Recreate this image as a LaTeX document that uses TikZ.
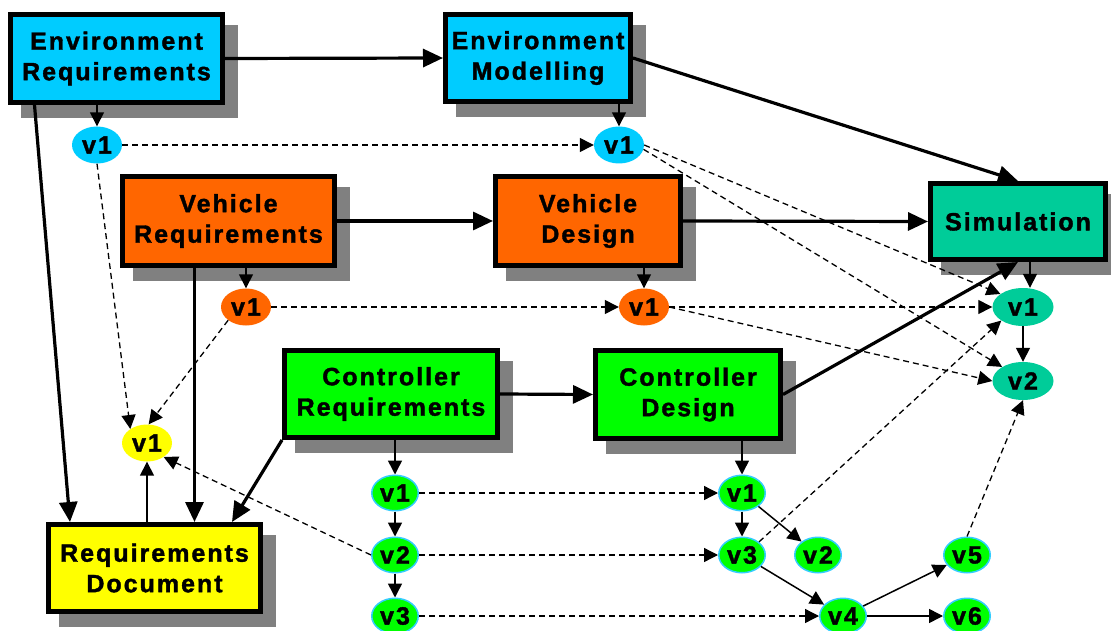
\documentclass[tikz,border=0pt]{standalone}
\usepackage{fontspec}
\setmainfont{Liberation Sans}
\newfontfamily\lblfont[LetterSpace=8, BoldFeatures={FakeBold=1.5}]{Liberation Sans}
\usetikzlibrary{arrows.meta,shapes.geometric,calc}

\definecolor{envc}{HTML}{00CCFF}
\definecolor{vehc}{HTML}{FF6600}
\definecolor{simc}{HTML}{00CC99}
\definecolor{ctlc}{HTML}{00FF00}
\definecolor{docc}{HTML}{FFFF00}
\definecolor{shadowgray}{HTML}{808080}
\definecolor{verline}{HTML}{33CCFF}

\begin{document}
\begin{tikzpicture}[x=1pt,y=-1pt,
  lbl/.style={font=\lblfont\bfseries\fontsize{25}{30.5}\selectfont, align=center, text=black},
  box/.style={lbl, draw=black, line width=5pt, inner sep=0pt,
    preaction={fill=shadowgray, draw=shadowgray, transform canvas={shift={(13pt,-13pt)}}}},
  ver/.style={lbl, ellipse, inner sep=0pt, minimum width=50pt, minimum height=37pt},
  simver/.style={ver, fill=simc, minimum width=61pt, minimum height=38pt},
  ctlver/.style={ver, fill=ctlc, draw=verline, line width=1.5pt, minimum width=46.5pt, minimum height=35.5pt},
  flow/.style={line width=3.2pt, -{Triangle[length=20pt,width=18pt]}},
  step link/.style={line width=1.5pt, -{Triangle[length=14pt,width=14pt]}},
  trace/.style={line width=1.3pt, dash pattern=on 6pt off 4pt, -{Triangle[length=14pt,width=14pt]}}
]
\useasboundingbox (0,0) rectangle (1111,631);

% activity boxes
\node[box, fill=envc, minimum width=212pt, minimum height=88pt] (er) at (116.5,58.5) {Environment\\Requirements};
\node[box, fill=envc, minimum width=185pt, minimum height=87pt] (em) at (538,58) {Environment\\Modelling};
\node[box, fill=vehc, minimum width=212pt, minimum height=89pt] (vr) at (228.5,221) {Vehicle\\Requirements};
\node[box, fill=vehc, minimum width=185pt, minimum height=89pt] (vd) at (588,221) {Vehicle\\Design};
\node[box, fill=simc, minimum width=175pt, minimum height=76pt] (sim) at (1018,221.5) {Simulation};
\node[box, fill=ctlc, minimum width=213pt, minimum height=87pt] (cr) at (391,394) {Controller\\Requirements};
\node[box, fill=ctlc, minimum width=185pt, minimum height=88pt] (cd) at (688,394.5) {Controller\\Design};
\node[box, fill=docc, minimum width=212pt, minimum height=87pt] (rd) at (154.5,568) {Requirements\\Document};

% versions
\node[ver, fill=envc] (ev1) at (97,145) {v1};
\node[ver, fill=envc] (mv1) at (619,145) {v1};
\node[ver, fill=vehc] (rv1) at (246,307) {v1};
\node[ver, fill=vehc] (dv1) at (644,307) {v1};
\node[ver, fill=docc] (yv1) at (147,443) {v1};
\node[simver] (sv1) at (1023,307) {v1};
\node[simver] (sv2) at (1023,381) {v2};
\node[ctlver] (cr1) at (395,493) {v1};
\node[ctlver] (cr2) at (395,555) {v2};
\node[ctlver] (cr3) at (395,616) {v3};
\node[ctlver] (cd1) at (742,493) {v1};
\node[ctlver] (cd3) at (742,555) {v3};
\node[ctlver] (cd2) at (818,555) {v2};
\node[ctlver] (cd4) at (843,616) {v4};
\node[ctlver] (cd5) at (967,555) {v5};
\node[ctlver] (cd6) at (967,616) {v6};

% process flow
\draw[flow] (er.east) -- (em.west);
\draw[flow] (em.east) -- (sim.north);
\draw[flow] (vr.east) -- (vd.west);
\draw[flow] (vd.east) -- (sim.west);
\draw[flow] (cr.east) -- (cd.west);
\draw[flow] (cd.east) -- (sim.south);
\draw[flow] ($(er.south west)+(26.5,0)$) -- ($(rd.north west)+(24,0)$);
\draw[flow] ($(vr.south west)+(74.5,0)$) coordinate (vrdrop) -- (vrdrop |- rd.north);
\draw[flow] (cr.south west) -- ($(rd.north east)+(-31,0)$);

% versions produced by each activity
\draw[step link] (er.south -| ev1) -- (ev1);
\draw[step link] (em.south -| mv1) -- (mv1);
\draw[step link] (vr.south -| rv1) -- (rv1);
\draw[step link] (vd.south -| dv1) -- (dv1);
\draw[step link] ($(sim.south)+(12,0)$) coordinate (simdrop) -- (simdrop |- sv1.north);
\draw[step link] (sv1) -- (sv2);
\draw[step link] (rd.north -| yv1) -- (yv1);
\draw[step link] (cr.south -| cr1) -- (cr1);
\draw[step link] (cr1) -- (cr2);
\draw[step link] (cr2) -- (cr3);
\draw[step link] (cd.south -| cd1) -- (cd1);
\draw[step link] (cd1) -- (cd3);
\draw[step link] (cd1) -- (cd2);
\draw[step link] (cd3) -- (cd4);
\draw[step link] (cd4) -- (cd5);
\draw[step link] (cd4) -- (cd6);

% traceability between versions
\draw[trace] (ev1) -- (mv1);
\draw[trace] (ev1.south) -- (yv1.140);
\draw[trace] (rv1) -- (dv1);
\draw[trace] (rv1.south west) -- (yv1.85);
\draw[trace] (cr2.west) -- (yv1.-40);
\draw[trace] (cr1) -- (cd1);
\draw[trace] (cr2) -- (cd3);
\draw[trace] (cr3) -- (cd4);
\draw[trace] (mv1.east) -- (sv1.150);
\draw[trace] (mv1.-10) -- (sv2.146);
\draw[trace] (dv1.east) -- (sv1.west);
\draw[trace] (dv1.east) -- (sv2.west);
\draw[trace] (cd3.north east) -- (sv1.212);
\draw[trace] (cd5.north) -- (sv2.south);
\end{tikzpicture}
\end{document}
